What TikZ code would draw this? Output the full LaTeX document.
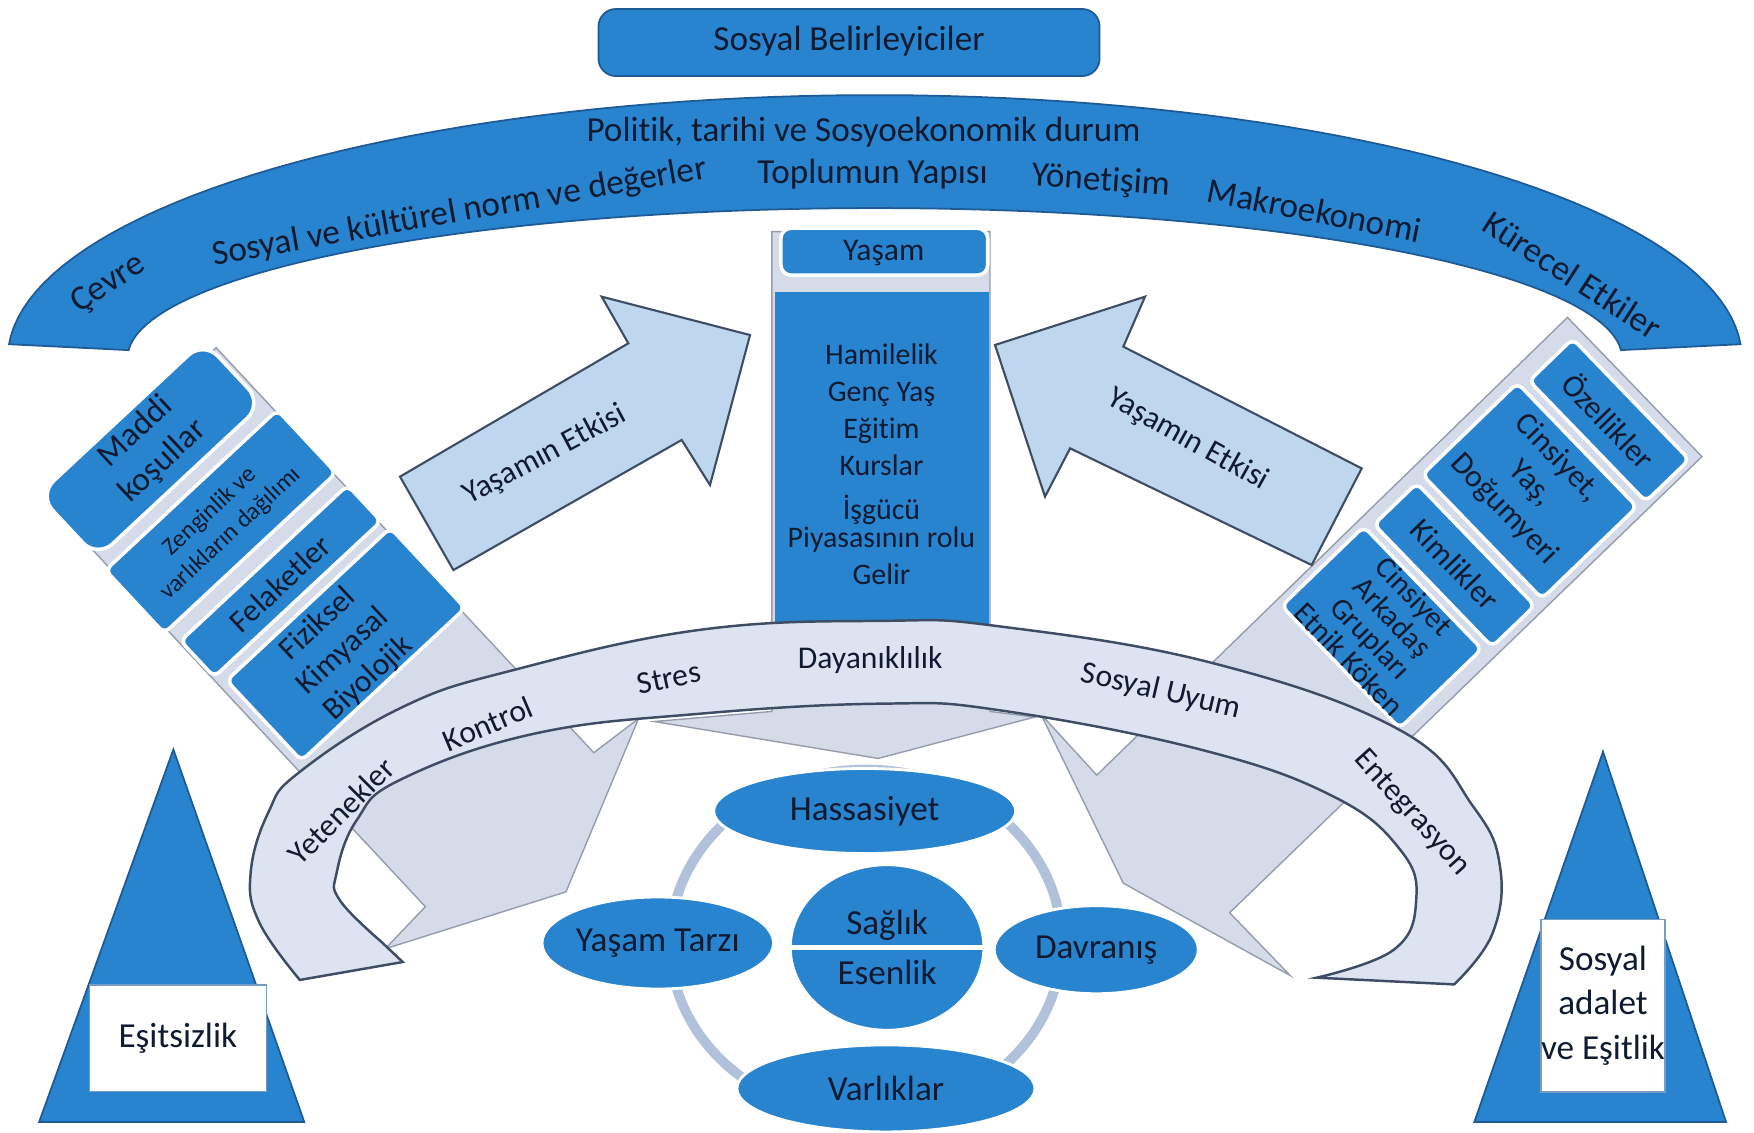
\documentclass[tikz,border=0pt]{standalone}
\usepackage{fontspec}
\setmainfont{Carlito}[Ligatures={NoCommon}]
\usetikzlibrary{shapes.geometric}

\definecolor{sdblue}{RGB}{40,132,206}
\definecolor{sdedge}{RGB}{30,90,150}
\definecolor{sdtext}{RGB}{16,26,48}
\definecolor{sdband}{RGB}{221,227,241}
\definecolor{sdback}{RGB}{214,219,234}
\definecolor{sdarrow}{RGB}{190,214,238}
\definecolor{sdring}{RGB}{178,193,219}
\definecolor{sdline}{RGB}{62,76,100}

\tikzset{
  bluefill/.style={fill=sdblue, draw=sdedge, line width=0.5pt},
  stackbox/.style={fill=sdblue, draw=white, line width=1pt, rounded corners=2pt},
  backfill/.style={fill=sdback, draw=sdline!55, line width=0.4pt},
  lightband/.style={fill=sdband, draw=sdline, line width=0.7pt},
  lifearrow/.style={fill=sdarrow, draw=sdline, line width=0.6pt},
  lbl/.style={text=sdtext, font=\fontsize{10}{12}\selectfont, inner sep=0pt},
  bandtxt/.style={text=sdtext, font=\fontsize{9}{10}\selectfont, inner sep=0pt},
  stacktxt/.style={text=sdtext, font=\fontsize{9}{10.5}\selectfont, inner sep=0pt, align=center, transform shape},
  coltxt/.style={text=sdtext, font=\fontsize{8.5}{10.5}\selectfont, inner sep=0pt, align=center},
  ovalnode/.style={ellipse, fill=sdblue, draw=white, line width=0.8pt, text=sdtext, font=\fontsize{10}{12}\selectfont, inner sep=0pt},
  whitebox/.style={fill=white, draw=sdedge!60, line width=0.4pt, text=sdtext, font=\fontsize{10}{12.7}\selectfont, inner sep=0pt, align=center}
}

\begin{document}
\begin{tikzpicture}[x=0.011186cm, y=-0.011186cm]
\useasboundingbox (0,0) rectangle (1568,1012);

\draw[bluefill, rounded corners=5pt] (535,8) rectangle (983,68);
\node[lbl] (belirleyici) at (759,37) {Sosyal Belirleyiciler};

\draw[bluefill] plot[domain=177:3, samples=90] ({782+775*cos(\x)}, {320-235*sin(\x)})
  -- plot[domain=3:177, samples=90] ({782+668*cos(\x)}, {320-134*sin(\x)}) -- cycle;
\node[lbl, rotate=33] (cevre) at (97,254) {Çevre};
\node[lbl, rotate=10] (norm) at (411,190) {Sosyal ve kültürel norm ve değerler};
\node[lbl] (politik) at (772,118) {Politik, tarihi ve Sosyoekonomik durum};
\node[lbl] (yapi) at (780,156) {Toplumun Yapısı};
\node[lbl, rotate=-4] (yonetisim) at (984,162) {Yönetişim};
\node[lbl, rotate=-11] (makro) at (1175,188) {Makroekonomi};
\node[lbl, rotate=-33] (kuresel) at (1406,246) {Kürecel Etkiler};

\draw[backfill] (690,207) -- (885,207) -- (885,636) -- (925,641) -- (785,678) -- (585,645) -- (690,636) -- cycle;
\draw[stackbox, rounded corners=3pt] (698,204) rectangle (883,246);
\node[lbl, font=\fontsize{9}{10}\selectfont] (yasam) at (790,226) {Yaşam};
\fill[sdblue] (693,261) rectangle (884,570);
\node[coltxt] (yasamlist) at (788,415) {Hamilelik\\Genç Yaş\\Eğitim\\Kurslar\\[1.9pt]İşgücü\\[-2.5pt]Piyasasının rolu\\Gelir};

\begin{scope}[shift={(109,373)}, rotate=43, y=0.011186cm]
  \draw[backfill] (-100,-12) -- (104,-12) -- (104,-507) -- (154,-512) -- (1,-581) -- (-152,-508) -- (-100,-505) -- cycle;
  \draw[stackbox, rounded corners=6pt] (-102,-77) rectangle (100,0);
  \draw[stackbox] (-104,-167) rectangle (106,-90);
  \draw[stackbox] (-98,-226) rectangle (106,-182);
  \draw[stackbox] (-92,-334) rectangle (108,-236);
  \node[stacktxt, font=\fontsize{9.5}{11.4}\selectfont] (maddi) at (0,-36) {Maddi\\koşullar};
  \node[stacktxt, font=\fontsize{7}{8.5}\selectfont] (zenginlik) at (0,-129) {Zenginlik ve\\varlıkların dağılımı};
  \node[stacktxt] (felaket) at (2,-205) {Felaketler};
  \node[stacktxt] (fiziksel) at (2,-288) {Fiziksel\\Kimyasal\\Biyolojik};
\end{scope}

\begin{scope}[shift={(1458.7,357.6)}, rotate=-46, y=0.011186cm]
  \draw[backfill] (-93,10) -- (80,10) -- (80,-577) -- (158,-577) -- (-5,-627) -- (-165,-575) -- (-91,-577) -- cycle;
  \draw[stackbox] (-76,-54) rectangle (74,0);
  \draw[stackbox] (-82,-181) rectangle (72,-63);
  \draw[stackbox] (-80,-243) rectangle (72,-190);
  \draw[stackbox] (-85,-353) rectangle (67,-251);
  \node[stacktxt] (ozellik) at (-1,-27) {Özellikler};
  \node[stacktxt] (cinsiyet) at (-9,-117) {Cinsiyet,\\Yaş,\\Doğumyeri};
  \node[stacktxt] (kimlik) at (-4,-216) {Kimlikler};
  \node[stacktxt, font=\fontsize{8.6}{8.6}\selectfont] (etnik) at (-9,-302) {Cinsiyet\\Arkadaş\\Grupları\\Etnik Köken};
\end{scope}

\draw[lifearrow] (357.6,426.1) -- (561.7,306.9) -- (537.9,265.2) -- (670.5,299.5) -- (634.7,433.6) -- (609.4,393.3) -- (405.3,509.6) -- cycle;
\node[lbl, font=\fontsize{9}{10}\selectfont, rotate=28] (etkisol) at (487,407) {Yaşamın Etkisi};
\draw[lifearrow] (889.5,308.4) -- (1023.6,265.2) -- (1004.2,309.9) -- (1217.3,418.7) -- (1172.6,505.1) -- (956.6,400.8) -- (934.2,444) -- cycle;
\node[lbl, font=\fontsize{9}{10}\selectfont, rotate=-29] (etkisag) at (1062,393) {Yaşamın Etkisi};

\draw[lightband] plot[smooth, tension=0.7] coordinates {(268,876) (232,825) (224,781) (240,726) (268,690) (360,632) (459,599) (626,563) (790,555) (894,560) (1085,593) (1252,653) (1317,721) (1341,775) (1334,835) (1300,880)}
  -- (1177,874)
  -- plot[smooth, tension=0.7] coordinates {(1177,874) (1246,849) (1266,805) (1252,760) (1192,712) (1073,670) (894,635) (790,629) (626,638) (477,656) (358,697) (319,733) (301,780) (304,805) (341,842)}
  -- (360,860) -- cycle;
\node[bandtxt, rotate=45] (yetenek) at (305,725) {Yetenekler};
\node[bandtxt, rotate=23] (kontrol) at (436,647) {Kontrol};
\node[bandtxt, rotate=12] (stres) at (598,606) {Stres};
\node[bandtxt] (dayanik) at (778,590) {Dayanıklılık};
\node[bandtxt, rotate=-13] (uyum) at (1038,618) {Sosyal Uyum};
\node[bandtxt, rotate=-48] (entegre) at (1262,727) {Entegrasyon};

\draw[sdring, line width=2.8pt] (774,843) ellipse [x radius=1.958cm, y radius=1.734cm];
\node[ovalnode, minimum width=3.02cm, minimum height=0.85cm] (hassas) at (773,725) {Hassasiyet};
\node[ovalnode, minimum width=2.19cm, minimum height=0.92cm] (tarz) at (588,843) {Yaşam Tarzı};
\node[ovalnode, minimum width=2.04cm, minimum height=0.88cm] (davranis) at (980,849) {Davranış};
\node[ovalnode, minimum width=2.98cm, minimum height=0.87cm] (varlik) at (792,973) {Varlıklar};
\node[ovalnode, minimum width=1.935cm, minimum height=1.655cm, align=center] (saglik) at (793,847) {Sağlık\\[2pt]Esenlik};
\draw[white, line width=1.6pt] (saglik.west) -- (saglik.east);

\draw[bluefill] (35,1003) -- (155,670) -- (272,1003) -- cycle;
\node[whitebox, minimum width=1.767cm, minimum height=1.063cm] (esitsiz) at (159,928) {Eşitsizlik};
\draw[bluefill] (1318,1003) -- (1433,672) -- (1543,1003) -- cycle;
\node[whitebox, minimum width=1.197cm, minimum height=1.723cm] (adalet) at (1433,899) {Sosyal\\adalet\\ve Eşitlik};
\end{tikzpicture}
\end{document}
